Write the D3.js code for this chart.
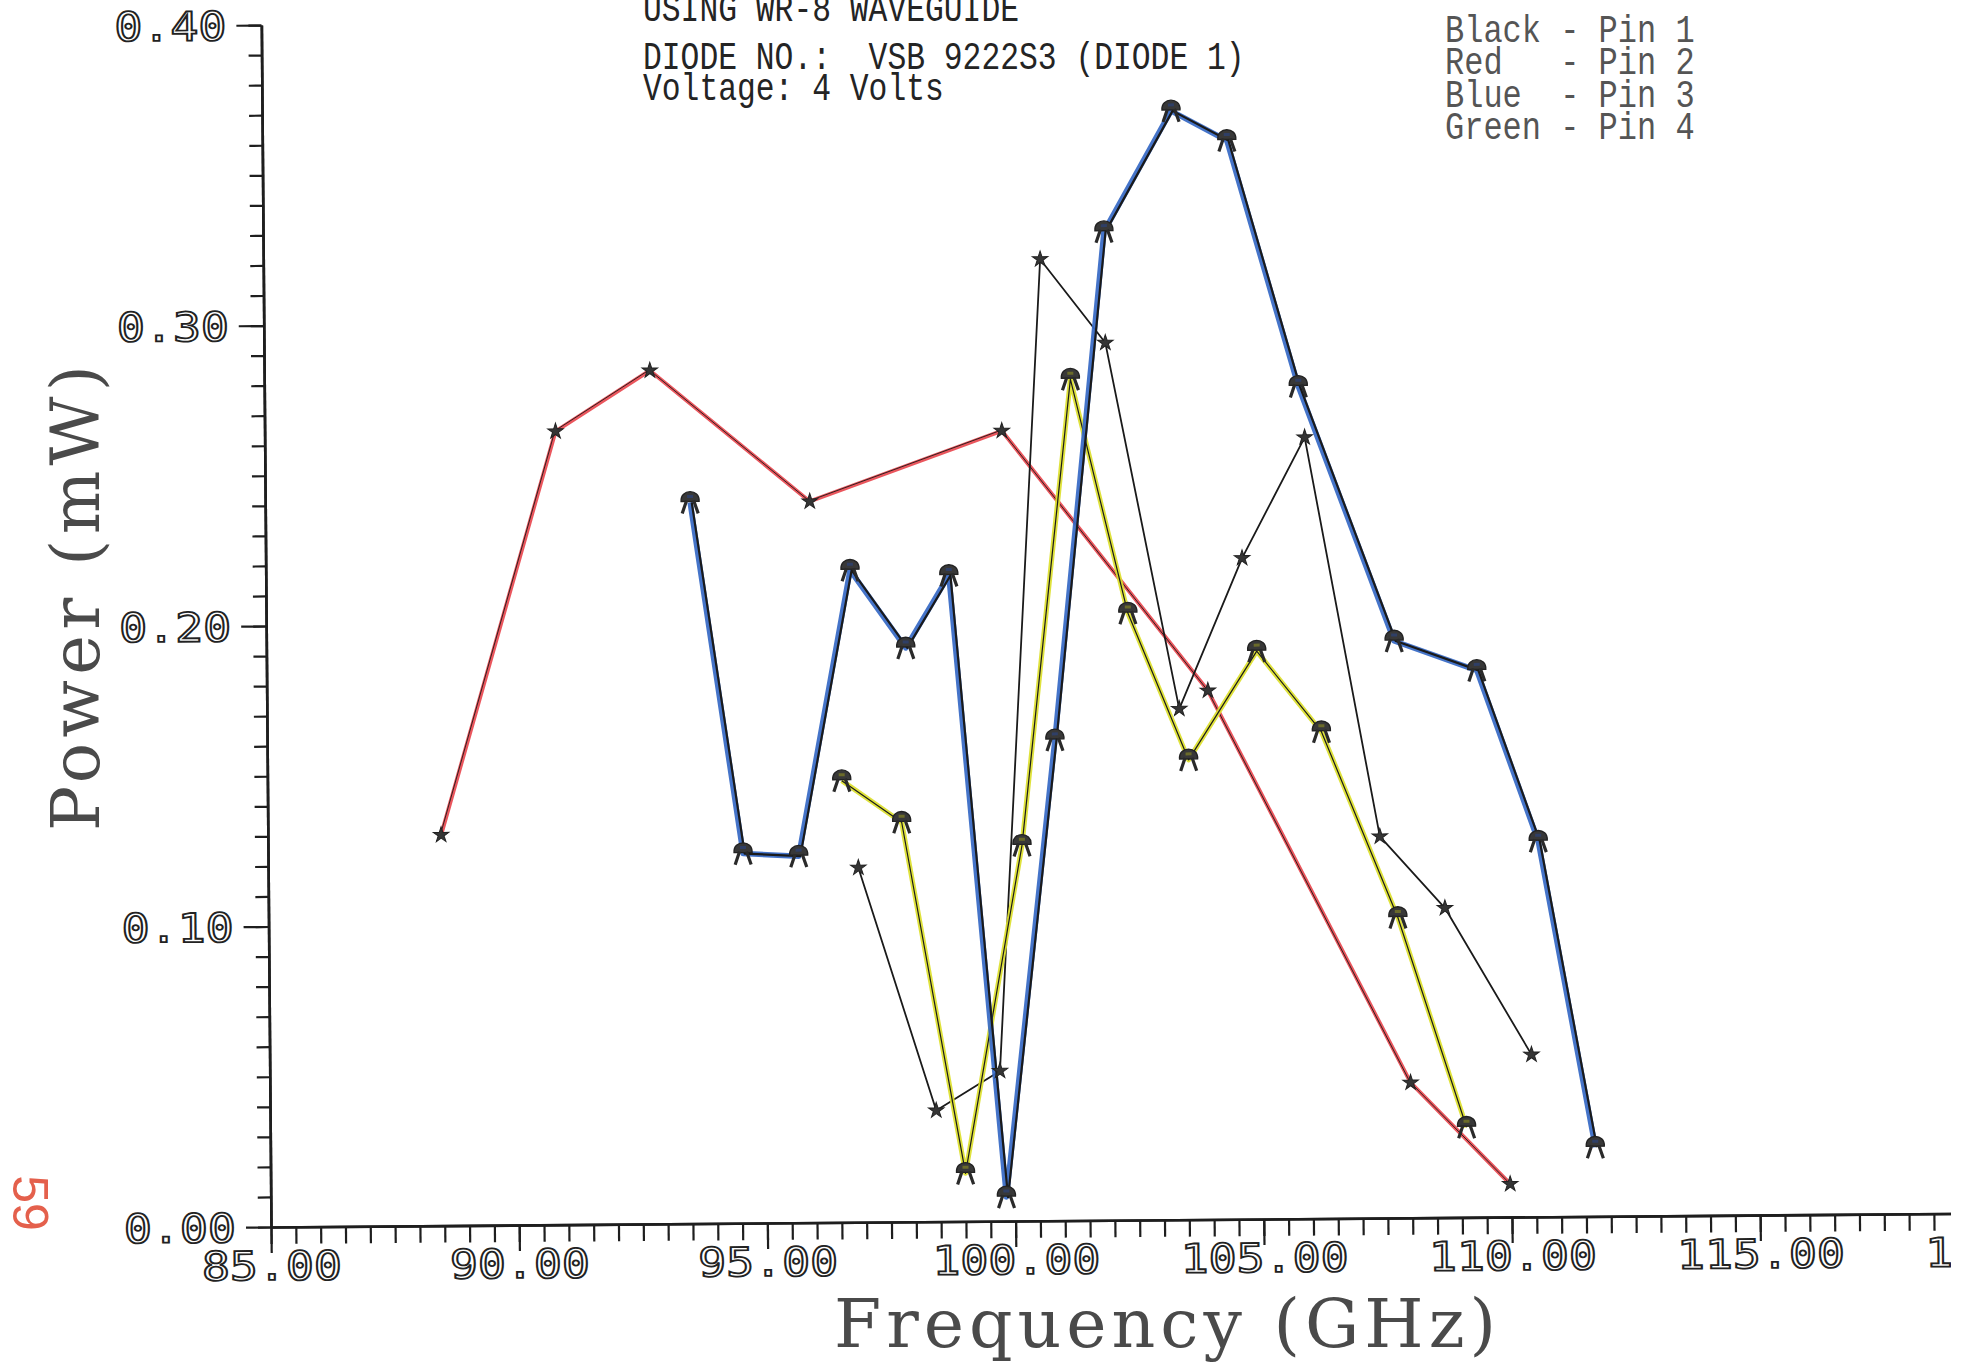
<!DOCTYPE html>
<html>
<head>
<meta charset="utf-8">
<title>Power vs Frequency - WR-8 waveguide</title>
<script src="https://cdn.jsdelivr.net/npm/d3@7"></script>
<style>
html,body{margin:0;padding:0;background:#fff;}
svg{display:block;}
.pre{white-space:pre;}
</style>
</head>
<body>
<svg id="chart" width="1965" height="1366"></svg>
<script>

// ===============================
// DATA
// ===============================

// Pin 1 - plain black line
const pin1Freq  = [96.89, 98.42, 99.71, 100.65, 101.95, 103.38, 104.67, 105.95, 107.40, 108.70, 110.42];
const pin1Power = [0.118, 0.037, 0.050, 0.320, 0.292, 0.170, 0.220, 0.260, 0.127, 0.103, 0.054];

// Pin 2 - red
const pin2Freq  = [88.49, 90.86, 92.77, 95.97, 99.85, 103.96, 107.98, 109.97];
const pin2Power = [0.130, 0.264, 0.284, 0.240, 0.263, 0.176, 0.045, 0.011];

// Pin 3 - blue
const pin3Freq  = [93.56, 94.57, 95.69, 96.77, 97.88, 98.76, 99.82, 100.87, 101.94, 103.31, 104.43, 105.83, 107.72, 109.38, 110.59, 111.69];
const pin3Power = [0.240, 0.123, 0.122, 0.217, 0.191, 0.215, 0.008, 0.160, 0.329, 0.369, 0.359, 0.277, 0.192, 0.182, 0.125, 0.023];

// Pin 4 - green (yellow on the sheet)
const pin4Freq  = [96.57, 97.77, 99.00, 100.19, 101.24, 102.36, 103.56, 104.95, 106.24, 107.75, 109.10];
const pin4Power = [0.147, 0.133, 0.016, 0.125, 0.280, 0.202, 0.153, 0.189, 0.162, 0.100, 0.030];

const xMajorTicks = [85, 90, 95, 100, 105, 110, 115, 120];
const yMajorTicks = [0.00, 0.10, 0.20, 0.30, 0.40];

const titleLines  = ["USING WR-8 WAVEGUIDE", "DIODE NO.:  VSB 9222S3 (DIODE 1)", "Voltage: 4 Volts"];
const legendLines = ["Black - Pin 1", "Red   - Pin 2", "Blue  - Pin 3", "Green - Pin 4"];

// ===============================
// SCALES
// ===============================

const svg = d3.select("#chart");

const originX = 271, originY = 1227;

const x = d3.scaleLinear().domain([85, 120]).range([originX, originX + 35 * 49.64]);
const y = d3.scaleLinear().domain([0, 0.4]).range([originY, originY - 1202]);

svg.append("defs").append("clipPath").attr("id", "pageClip")
    .append("rect").attr("x", 0).attr("y", 0).attr("width", 1951).attr("height", 1366);

const page = svg.append("g").attr("clip-path", "url(#pageClip)");

// scanned sheet sits a little crooked
const plot = page.append("g").attr("transform", `rotate(-0.46,${originX},${originY})`);

// ===============================
// AXES
// ===============================

const tickFont = "'DejaVu Sans Mono', monospace";

function styleAxis(g){
    g.selectAll("path.domain").attr("stroke", "#1e1e1e").attr("stroke-width", 2.6);
    g.selectAll(".tick line").attr("stroke", "#1e1e1e").attr("stroke-width", 2.2);
}

function styleLabels(g){
    g.selectAll(".tick text")
        .attr("font-family", tickFont)
        .attr("font-size", 40)
        .attr("fill", "none")
        .attr("stroke", "#222")
        .attr("stroke-width", 1.8)
        .style("font-variant-numeric", "slashed-zero")
        .attr("textLength", function(){ return this.textContent.length * 28; })
        .attr("lengthAdjust", "spacingAndGlyphs");
}

// x minor ticks every 0.5 GHz
const xMinor = plot.append("g").attr("transform", `translate(0,${originY})`)
    .call(d3.axisBottom(x).tickValues(d3.range(85, 118.51, 0.5)).tickSize(17).tickSizeOuter(0).tickFormat(""));
styleAxis(xMinor);

const xMajor = plot.append("g").attr("transform", `translate(0,${originY})`)
    .call(d3.axisBottom(x).tickValues(xMajorTicks).tickSize(26).tickSizeOuter(0).tickFormat(d3.format(".2f")));
styleAxis(xMajor);
styleLabels(xMajor);
xMajor.selectAll(".tick text").attr("y", 53).attr("dy", null);

// y minor ticks every 0.01 mW
const yMinor = plot.append("g").attr("transform", `translate(${originX},0)`)
    .call(d3.axisLeft(y).tickValues(d3.range(0, 0.4001, 0.01)).tickSize(13).tickSizeOuter(0).tickFormat(""));
styleAxis(yMinor);

const yMajor = plot.append("g").attr("transform", `translate(${originX},0)`)
    .call(d3.axisLeft(y).tickValues(yMajorTicks).tickSize(25).tickSizeOuter(0).tickFormat(d3.format(".2f")));
styleAxis(yMajor);
styleLabels(yMajor);
yMajor.selectAll(".tick text").attr("x", -35).attr("dy", "0.36em");

// ===============================
// SERIES
// ===============================

const line = d3.line().x(d => x(d[0])).y(d => y(d[1]));

const pin1 = d3.zip(pin1Freq, pin1Power);
const pin2 = d3.zip(pin2Freq, pin2Power);
const pin3 = d3.zip(pin3Freq, pin3Power);
const pin4 = d3.zip(pin4Freq, pin4Power);

// pencil colour laid along the plotter's black ink
function drawTrace(data, colour, colourWidth, inkWidth, dx, dy){
    if(colour){
        plot.append("path").datum(data)
            .attr("d", line)
            .attr("fill", "none")
            .attr("stroke", colour)
            .attr("stroke-width", colourWidth)
            .attr("stroke-linejoin", "round")
            .attr("stroke-opacity", 0.92);
    }
    plot.append("path").datum(data)
        .attr("d", line)
        .attr("transform", `translate(${dx},${dy})`)
        .attr("fill", "none")
        .attr("stroke", "#1a1a1a")
        .attr("stroke-width", inkWidth)
        .attr("stroke-linejoin", "round");
}

drawTrace(pin2, "#e8484f", 4, 0.9, -0.6, -0.6);
drawTrace(pin1, null, 0, 1.8, 0, 0);
drawTrace(pin4, "#dce02c", 5, 1.2, 0, 0);
drawTrace(pin3, "#3568c4", 5.5, 2.2, 1.6, 0);

// -------- MARKERS --------

const star = d3.symbol().type(d3.symbolStar).size(75);

function drawStars(data){
    plot.append("g").selectAll("path")
        .data(data)
        .enter()
        .append("path")
        .attr("d", star)
        .attr("transform", d => `translate(${x(d[0])},${y(d[1])})`)
        .attr("fill", "#353535")
        .attr("stroke", "#222")
        .attr("stroke-width", 1);
}

// plotter's "tent" symbol: dome with two legs
const tentDome = "M-9,-1 C-10,-14 10,-14 9,-1 Z";
const tentLegs = "M-3.5,-2 L-8,11 M3.5,-2 L8,11";

function drawTents(data, inner){
    const m = plot.append("g").selectAll("g")
        .data(data)
        .enter()
        .append("g")
        .attr("transform", d => `translate(${x(d[0])},${y(d[1])})`);
    m.append("path").attr("d", tentDome).attr("fill", "#383838").attr("stroke", "#222").attr("stroke-width", 1.4);
    m.append("path").attr("d", "M-3,-6 L3,-6").attr("stroke", inner).attr("stroke-width", 3);
    m.append("path").attr("d", tentLegs).attr("fill", "none").attr("stroke", "#2a2a2a").attr("stroke-width", 3.2);
}

drawStars(pin2);
drawStars(pin1);
drawTents(pin4, "#6b6b2a");
drawTents(pin3, "#2f3f66");

// ===============================
// AXIS TITLES
// ===============================

page.append("text")
    .attr("x", 834)
    .attr("y", 1347)
    .attr("font-family", "'DejaVu Serif', serif")
    .attr("font-size", 68)
    .attr("fill", "#4a4a4a")
    .attr("textLength", 662)
    .attr("lengthAdjust", "spacing")
    .text("Frequency (GHz)");

page.append("text")
    .attr("transform", "translate(99,598) rotate(-90)")
    .attr("text-anchor", "middle")
    .attr("font-family", "'DejaVu Serif', serif")
    .attr("font-size", 67)
    .attr("fill", "#4a4a4a")
    .attr("textLength", 466)
    .attr("lengthAdjust", "spacing")
    .text("Power (mW)");

// ===============================
// HEADER TEXT + LEGEND
// ===============================

const headFont = "'Liberation Mono', monospace";

const titleY = [21, 69, 100];

page.append("g").selectAll("text")
    .data(titleLines)
    .enter()
    .append("text")
    .attr("class", "pre")
    .attr("x", 643)
    .attr("y", (d, i) => titleY[i])
    .attr("font-family", headFont)
    .attr("font-size", 39)
    .attr("fill", "#242424")
    .attr("textLength", d => d.length * 18.8)
    .attr("lengthAdjust", "spacingAndGlyphs")
    .text(d => d);

page.append("g").selectAll("text")
    .data(legendLines)
    .enter()
    .append("text")
    .attr("class", "pre")
    .attr("x", 1445)
    .attr("y", (d, i) => 42 + i * 32.4)
    .attr("font-family", headFont)
    .attr("font-size", 39)
    .attr("fill", "#555")
    .attr("textLength", d => d.length * 19.2)
    .attr("lengthAdjust", "spacingAndGlyphs")
    .text(d => d);

// page number stamped in the margin
svg.append("text")
    .attr("transform", "translate(13,1203) rotate(90)")
    .attr("text-anchor", "middle")
    .attr("font-family", "'Liberation Sans', sans-serif")
    .attr("font-size", 50)
    .attr("fill", "#e4604c")
    .text("59");

</script>
</body>
</html>
